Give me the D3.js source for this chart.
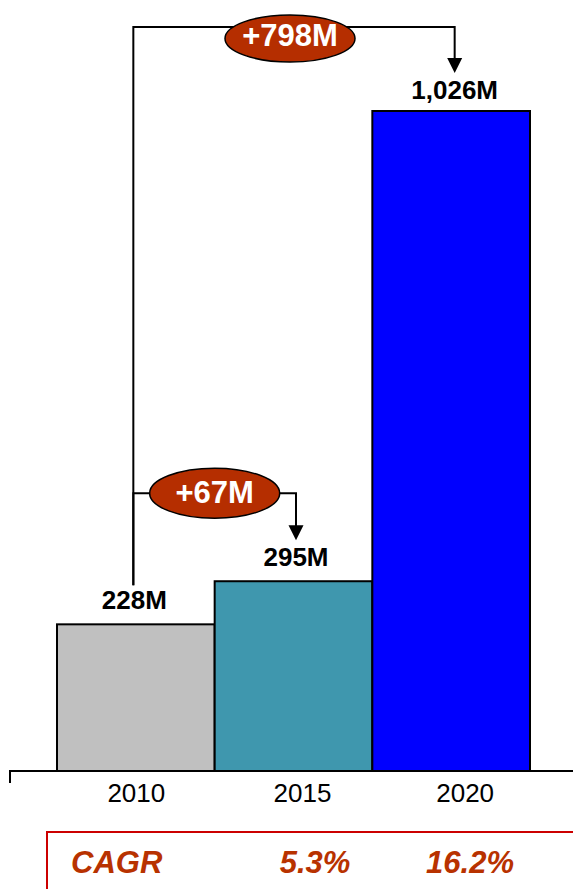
<!DOCTYPE html>
<html><head><meta charset="utf-8">
<script src="https://cdn.jsdelivr.net/npm/d3@7"></script>
<style>body{margin:0;background:#fff}svg{display:block}</style>
</head><body>
<script>
const years = ["2010", "2015", "2020"];
const values = [228, 295, 1026];
const valueLabels = ["228M", "295M", "1,026M"];
const barColors = ["#C0C0C0", "#3F97AE", "#0000FF"];
const growthLabels = ["+67M", "+798M"];
const cagrTitle = "CAGR";
const cagrLabels = ["5.3%", "16.2%"];

const W = 573, H = 889;
const svg = d3.select("body").append("svg").attr("width", W).attr("height", H);
const font = "'Liberation Sans', Arial, sans-serif";

const x = d3.scaleBand().domain(years).range([57, 530]).padding(0);
const y = d3.scaleLinear().domain([0, 1026]).range([771, 111]);
const cx = d => x(d) + x.bandwidth() / 2;

// bars
svg.selectAll("rect.bar").data(years).join("rect").attr("class", "bar")
  .attr("x", d => x(d)).attr("width", x.bandwidth())
  .attr("y", (d, i) => y(values[i])).attr("height", (d, i) => y(0) - y(values[i]))
  .attr("fill", (d, i) => barColors[i]).attr("stroke", "#000").attr("stroke-width", 2);

// axis
const yearShift = [0.5, 9, 14];
const axisG = svg.append("g").attr("transform", `translate(0,${y(0)})`);
axisG.append("path").attr("d", `M10,12V0H573`).attr("fill", "none").attr("stroke", "#000").attr("stroke-width", 2);
axisG.selectAll("text").data(years).join("text")
  .attr("x", (d, i) => cx(d) + yearShift[i]).attr("y", 31).attr("text-anchor", "middle")
  .attr("font-family", font).attr("font-size", 26).attr("fill", "#000").text(d => d);

// value labels
const labelShift = [-1.5, 2.5, 3.5];
const lx = (d, i) => cx(d) + labelShift[i];
svg.selectAll("text.val").data(years).join("text").attr("class", "val")
  .attr("x", lx).attr("y", (d, i) => y(values[i]) - (i === 2 ? 12 : 15))
  .attr("text-anchor", "middle").attr("font-family", font).attr("font-weight", "bold")
  .attr("font-size", 26).attr("fill", "#000").text((d, i) => valueLabels[i]);

// brackets
const x0 = lx(years[0], 0) - 1;
const startY = y(values[0]) - 39;
const brackets = [
  { to: 1, lineY: y(values[1]) - 88, ecy: y(values[1]) - 88, rx: 65, ry: 25, fs: 31, dx: 0, ty: 9.5 },
  { to: 2, lineY: y(values[2]) - 84, ecy: y(values[2]) - 72.5, rx: 65, ry: 23.5, fs: 31, dx: -4, ty: 7.5 }
];
brackets.forEach((b, k) => {
  const xe = lx(years[b.to], b.to);
  const tipY = y(values[b.to]) - (b.to === 2 ? 38 : 41);
  svg.append("path").attr("d", `M${x0},${startY}V${b.lineY}H${xe}V${tipY - 14}`)
    .attr("fill", "none").attr("stroke", "#000").attr("stroke-width", 2);
  svg.append("path").attr("d", `M${xe - 7.5},${tipY - 15}L${xe + 7.5},${tipY - 15}L${xe},${tipY}Z`).attr("fill", "#000");
  const ex = (x0 + xe) / 2 + b.dx;
  svg.append("ellipse").attr("cx", ex).attr("cy", b.ecy).attr("rx", b.rx).attr("ry", b.ry)
    .attr("fill", "#B52E00").attr("stroke", "#000").attr("stroke-width", 1.5);
  svg.append("text").attr("x", ex).attr("y", b.ecy + b.ty).attr("text-anchor", "middle")
    .attr("font-family", font).attr("font-weight", "bold").attr("font-size", b.fs)
    .attr("fill", "#fff").text(growthLabels[k]);
});

// CAGR box
svg.append("rect").attr("x", 47).attr("y", 832).attr("width", 600).attr("height", 100)
  .attr("fill", "none").attr("stroke", "#CC0000").attr("stroke-width", 2);
const cagrG = svg.append("g").attr("font-family", font).attr("font-weight", "bold")
  .attr("font-style", "italic").attr("font-size", 31).attr("fill", "#B83200");
cagrG.append("text").attr("x", 71).attr("y", 873).text(cagrTitle);
cagrG.selectAll("text.c").data(cagrLabels).join("text").attr("class", "c")
  .attr("x", (d, i) => [315, 470][i]).attr("y", 873).attr("text-anchor", "middle").text(d => d);
</script>
</body></html>
